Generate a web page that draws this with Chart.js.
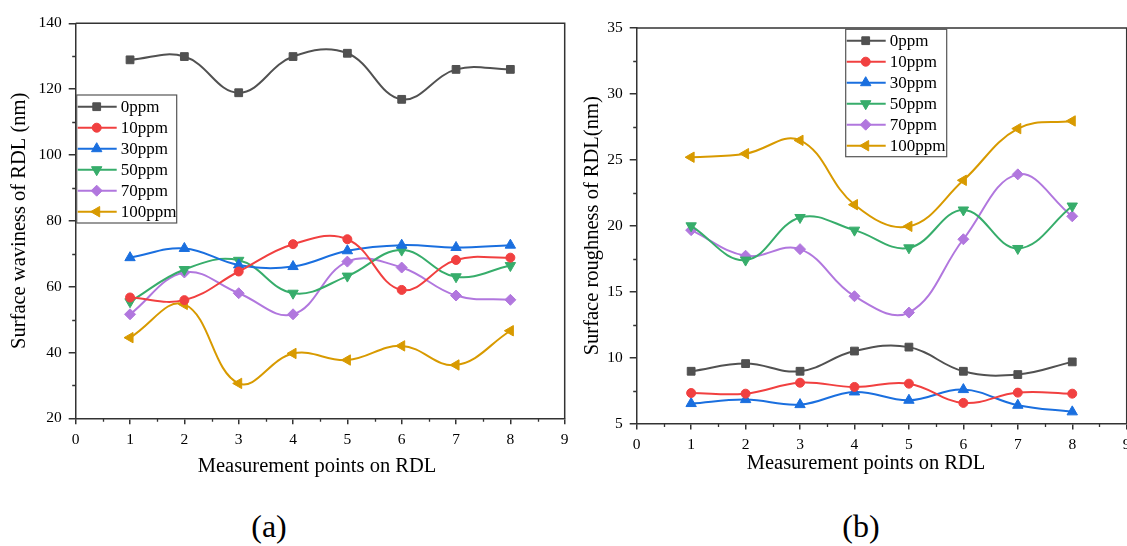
<!DOCTYPE html>
<html>
<head>
<meta charset="utf-8">
<script src="https://cdn.jsdelivr.net/npm/chart.js"></script>
<style>
    html, body { margin: 0; padding: 0; background: #fff; width: 1127px; height: 546px; overflow: hidden; }
    .wrap { position: absolute; top: 0; width: 600px; height: 480px; }
    .caption { position: absolute; font-family: "Liberation Serif", "Times New Roman", serif; color: #000; text-align: center; white-space: nowrap; line-height: 1; }
</style>
</head>
<body>
<div class="wrap" style="left:0"><canvas id="chartA" width="600" height="480"></canvas></div>
<div class="wrap" style="left:570px"><canvas id="chartB" width="600" height="480"></canvas></div>
<div class="caption" style="left:167px;top:455px;width:300px;font-size:20.5px">Measurement points on RDL</div>
<div class="caption" style="left:716px;top:452px;width:300px;font-size:20.5px">Measurement points on RDL</div>
<div class="caption" style="left:219px;top:510px;width:100px;font-size:32px">(a)</div>
<div class="caption" style="left:811px;top:510px;width:100px;font-size:32px">(b)</div>
<script>
// measurement points and series names
const points = [1, 2, 3, 4, 5, 6, 7, 8];
const seriesNames = ['0ppm', '10ppm', '30ppm', '50ppm', '70ppm', '100ppm'];

// (a) surface waviness (nm)
const wav0 = [128.9, 129.9, 118.9, 129.9, 130.9, 116.9, 126.0, 126.0];
const wav10 = [56.7, 55.9, 64.6, 72.9, 74.4, 59.0, 68.1, 68.8];
const wav30 = [68.8, 71.6, 66.6, 66.1, 70.9, 72.6, 71.9, 72.6];
const wav50 = [55.4, 65.2, 68.0, 58.0, 63.2, 71.1, 63.0, 66.4];
const wav70 = [51.6, 64.3, 58.0, 51.6, 67.6, 65.8, 57.3, 56.0];
const wav100 = [44.5, 54.6, 30.6, 39.7, 37.7, 42.0, 36.2, 46.6];

// (b) surface roughness (nm)
const rough0 = [8.97, 9.55, 8.97, 10.5, 10.8, 8.97, 8.72, 9.68];
const rough10 = [7.32, 7.27, 8.1, 7.78, 8.03, 6.57, 7.35, 7.27];
const rough30 = [6.52, 6.82, 6.44, 7.4, 6.77, 7.58, 6.39, 5.89];
const rough50 = [20.0, 17.4, 20.63, 19.67, 18.33, 21.2, 18.28, 21.5];
const rough70 = [19.67, 17.73, 18.23, 14.66, 13.42, 18.98, 23.9, 20.72];
const rough100 = [25.2, 25.47, 26.48, 21.6, 19.96, 23.45, 27.37, 27.95];

// axis ranges / tick steps
const xRange = [0, 9], xStep = 1;
const wavRange = [20, 140], wavStep = 20;
const roughRange = [5, 35], roughStep = 5;

const FONT = '"Liberation Serif", "Times New Roman", serif';
const styles = [
    { color: '#515151', pointStyle: 'rect', radius: 5.5, rotation: 0 },
    { color: '#F14040', pointStyle: 'circle', radius: 4.5, rotation: 0 },
    { color: '#1A6FDF', pointStyle: 'triangle', radius: 6, rotation: 0 },
    { color: '#37AD6B', pointStyle: 'triangle', radius: 6, rotation: 180 },
    { color: '#B177DE', pointStyle: 'rectRot', radius: 5.5, rotation: 0 },
    { color: '#D89A00', pointStyle: 'triangle', radius: 6, rotation: 270 }
];

function makeDatasets(seriesList) {
    return seriesList.map((vals, i) => ({
        label: seriesNames[i],
        data: points.map((p, j) => ({ x: p, y: vals[j] })),
        borderColor: styles[i].color,
        backgroundColor: styles[i].color,
        borderWidth: 2,
        tension: 0.4,
        pointStyle: styles[i].pointStyle,
        pointRadius: styles[i].radius,
        pointRotation: styles[i].rotation,
        pointBorderWidth: 1,
        pointHoverRadius: styles[i].radius
    }));
}

// top/right frame lines + minor ticks
const framePlugin = {
    id: 'frame',
    afterDraw(chart, args, opts) {
        const { ctx, chartArea: a, scales: { x, y } } = chart;
        ctx.save();
        ctx.strokeStyle = '#333';
        ctx.lineWidth = 1.5;
        ctx.beginPath();
        ctx.moveTo(a.left, a.top);
        ctx.lineTo(a.right, a.top);
        ctx.lineTo(a.right, a.bottom);
        ctx.stroke();
        ctx.lineWidth = 1.3;
        ctx.beginPath();
        for (let v = x.min + opts.xStep / 2; v < x.max; v += opts.xStep) {
            const px = Math.round(x.getPixelForValue(v)) + 0.5;
            ctx.moveTo(px, a.bottom);
            ctx.lineTo(px, a.bottom + 3.5);
        }
        for (let v = y.min + opts.yStep / 2; v < y.max; v += opts.yStep) {
            const py = Math.round(y.getPixelForValue(v)) + 0.5;
            ctx.moveTo(a.left, py);
            ctx.lineTo(a.left - 3.5, py);
        }
        ctx.stroke();
        ctx.restore();
    }
};

// boxed legend with line + marker like the original figure
const boxLegendPlugin = {
    id: 'boxLegend',
    afterDraw(chart, args, opts) {
        const ctx = chart.ctx;
        ctx.save();
        ctx.fillStyle = '#fff';
        ctx.fillRect(opts.x, opts.y, opts.w, opts.h);
        ctx.strokeStyle = '#555';
        ctx.lineWidth = 1.2;
        ctx.strokeRect(opts.x, opts.y, opts.w, opts.h);
        chart.data.datasets.forEach((ds, i) => {
            const ly = opts.y + opts.first + i * opts.step;
            ctx.strokeStyle = ds.borderColor;
            ctx.fillStyle = ds.backgroundColor;
            ctx.lineWidth = 2;
            ctx.beginPath();
            ctx.moveTo(opts.x + 1, ly);
            ctx.lineTo(opts.x + 40, ly);
            ctx.stroke();
            ctx.lineWidth = 1;
            Chart.helpers.drawPoint(ctx, {
                pointStyle: ds.pointStyle,
                radius: ds.pointRadius,
                rotation: ds.pointRotation,
                borderWidth: 1
            }, opts.x + 20, ly);
            ctx.fillStyle = '#000';
            ctx.font = '17px ' + FONT;
            ctx.textBaseline = 'middle';
            ctx.textAlign = 'left';
            ctx.fillText(ds.label, opts.x + 44, ly + 1);
        });
        ctx.restore();
    }
};

function axisX(height) {
    return {
        type: 'linear', min: xRange[0], max: xRange[1],
        ticks: { stepSize: xStep, color: '#000', padding: 6, maxRotation: 0, font: { family: FONT, size: 15.5 } },
        grid: { display: true, drawOnChartArea: false, drawTicks: true, tickLength: 6, color: '#333', lineWidth: 1.5 },
        border: { display: true, color: '#333', width: 1.5 },
        afterFit: s => { s.height = height; }
    };
}

function axisY(range, step, title, width, titlePad) {
    return {
        type: 'linear', min: range[0], max: range[1],
        ticks: { stepSize: step, color: '#000', padding: 7, font: { family: FONT, size: 15.5 } },
        grid: { display: true, drawOnChartArea: false, drawTicks: true, tickLength: 7, color: '#333', lineWidth: 1.5 },
        border: { display: true, color: '#333', width: 1.5 },
        title: { display: true, text: title, color: '#000', font: { family: FONT, size: 20.5 }, padding: { top: titlePad, bottom: 0 } },
        afterFit: s => { s.width = width; }
    };
}

function makeChart(id, seriesList, yRange, yStep, yTitle, geo, legendBox) {
    return new Chart(document.getElementById(id), {
        type: 'line',
        data: { datasets: makeDatasets(seriesList) },
        options: {
            responsive: false,
            animation: false,
            layout: { padding: { top: geo.top, right: geo.right, left: 0, bottom: 0 } },
            scales: {
                x: axisX(geo.xHeight),
                y: axisY(yRange, yStep, yTitle, geo.yWidth, geo.titlePad)
            },
            plugins: {
                legend: { display: false },
                tooltip: { enabled: false },
                frame: { xStep: xStep, yStep: yStep },
                boxLegend: legendBox
            }
        },
        plugins: [framePlugin, boxLegendPlugin]
    });
}

makeChart('chartA', [wav0, wav10, wav30, wav50, wav70, wav100], wavRange, wavStep,
    'Surface waviness of RDL (nm)',
    { top: 23.3, right: 35.3, xHeight: 61.7, yWidth: 75.7, titlePad: 7 },
    { x: 76.7, y: 95, w: 100, h: 128, first: 11.7, step: 21 });

makeChart('chartB', [rough0, rough10, rough30, rough50, rough70, rough100], roughRange, roughStep,
    'Surface roughness of RDL(nm)',
    { top: 28, right: 43.3, xHeight: 56.4, yWidth: 66.7, titlePad: 10 },
    { x: 275.7, y: 29.3, w: 101, h: 127.4, first: 11.4, step: 21 });
</script>
</body>
</html>
